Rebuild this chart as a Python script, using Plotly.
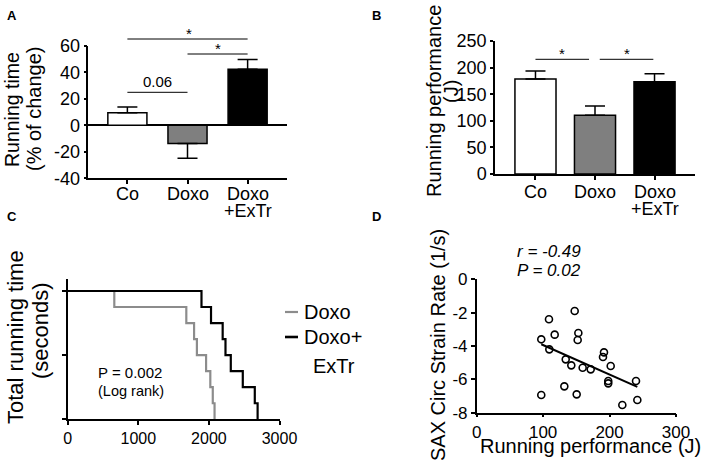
import plotly.graph_objects as go
import numpy as np

W, H = 708, 469
FONT = "Liberation Sans, Arial, Helvetica, sans-serif"


def px(x):
    return x / W


def py(y):
    return 1 - y / H


# ---------------- data ----------------
groups = ["Co", "Doxo", "Doxo"]
group_second_line = ["", "", "+ExTr"]
bar_colors = ["white", "#7f7f7f", "black"]

# Panel A: running time (% of change)
a_vals = [9.5, -13.8, 42.2]
a_err_plus = [4.3, 0.0, 7.3]
a_err_minus = [0.0, 11.1, 0.0]
a_yticks = [-40, -20, 0, 20, 40, 60]

# Panel B: running performance (J)
b_vals = [178.6, 110.3, 173.6]
b_err = [15.0, 17.5, 15.0]
b_yticks = [0, 50, 100, 150, 200, 250]

# Panel C: Kaplan-Meier style, event times (s)
km_names = ["Doxo", "Doxo+", "ExTr"]
km_doxo_times = [660, 1680, 1790, 1830, 1960, 2020, 2055, 2080]
km_extr_times = [1895, 2030, 2195, 2235, 2310, 2480, 2650, 2690]
c_xticks = [0, 1000, 2000, 3000]
c_yticks = [0, 50, 100]

# Panel D: scatter
d_x = [97.2, 108.8, 109.3, 117.4, 147.5, 153.0, 152.0, 134.0, 142.4, 159.5, 171.6,
       131.9, 97.2, 150.5, 191.6, 190.1, 201.7, 198.0, 198.0, 239.8, 241.8, 219.2]
d_y = [-3.6, -2.4, -4.2, -3.32, -1.9, -3.22, -3.64, -4.8, -5.16, -5.3, -5.4,
       -6.42, -6.94, -6.9, -4.38, -4.66, -5.2, -6.1, -6.24, -6.1, -7.24, -7.54]
d_xticks = [0, 100, 200, 300]
d_yticks = [0, -2, -4, -6, -8]

# ---------------- figure ----------------
fig = go.Figure()

fig.add_trace(go.Bar(
    x=[0, 1, 2], y=a_vals, width=0.65,
    marker=dict(color=bar_colors, line=dict(color="black", width=1.5)),
    error_y=dict(type="data", symmetric=False, array=a_err_plus, arrayminus=a_err_minus,
                 color="black", thickness=1.5, width=10),
    xaxis="x", yaxis="y", showlegend=False))

fig.add_trace(go.Bar(
    x=[0, 1, 2], y=b_vals, width=0.69,
    marker=dict(color=bar_colors, line=dict(color="black", width=1.5)),
    error_y=dict(type="data", symmetric=False, array=b_err, arrayminus=[0, 0, 0],
                 color="black", thickness=1.5, width=10),
    xaxis="x2", yaxis="y2", showlegend=False))


def km_steps(times):
    n = len(times)
    xs = [0] + list(times)
    ys = [100.0] + [100.0 * (n - i - 1) / n for i in range(n)]
    return xs, ys


for times, col, wdt in [(km_doxo_times, "#8c8c8c", 2.2), (km_extr_times, "black", 2.2)]:
    xs, ys = km_steps(times)
    fig.add_trace(go.Scatter(x=xs, y=ys, mode="lines", line=dict(color=col, width=wdt, shape="hv"),
                             xaxis="x3", yaxis="y3", showlegend=False))

fig.add_trace(go.Scatter(
    x=d_x, y=d_y, mode="markers",
    marker=dict(symbol="circle-open", size=7, color="black", line=dict(width=1.6, color="black")),
    xaxis="x4", yaxis="y4", showlegend=False, cliponaxis=False))

slope, intercept = np.polyfit(d_x, d_y, 1)
fx = np.array([min(d_x), max(d_x)])
fig.add_trace(go.Scatter(x=fx, y=slope * fx + intercept, mode="lines",
                         line=dict(color="black", width=2), xaxis="x4", yaxis="y4", showlegend=False))

axis_common = dict(showline=True, linecolor="black", linewidth=1.5, ticks="outside",
                   tickcolor="black", tickwidth=1.5, ticklen=4, showgrid=False, zeroline=False,
                   automargin=False,
                   tickfont=dict(size=18, color="black", family=FONT), fixedrange=True)

fig.update_layout(
    template="none",
    width=W, height=H, margin=dict(l=0, r=0, t=0, b=0, pad=0, autoexpand=False),
    paper_bgcolor="white", plot_bgcolor="white",
    font=dict(family=FONT, color="black"),
    xaxis=dict(axis_common, domain=[px(88.3), px(286.7)], range=[-0.65, 2.65], anchor="y",
               tickmode="array", tickvals=[0, 1, 2], showticklabels=False),
    yaxis=dict(axis_common, domain=[py(178.3), py(45.7)], range=[-40, 60], anchor="x",
               tickmode="array", tickvals=a_yticks, ticktext=[str(v) for v in a_yticks], ticklen=3,
               zeroline=True, zerolinecolor="black", zerolinewidth=1.5),
    xaxis2=dict(axis_common, domain=[px(495), px(695)], range=[-0.68, 2.68], anchor="y2",
                tickmode="array", tickvals=[0, 1, 2], showticklabels=False),
    yaxis2=dict(axis_common, domain=[py(174), py(41)], range=[0, 250], anchor="x2",
                tickmode="array", tickvals=b_yticks, ticktext=[str(v) for v in b_yticks], ticklen=3),
    xaxis3=dict(axis_common, domain=[px(67.7), px(279.5)], range=[0, 3000], anchor="y3",
                tickmode="array", tickvals=c_xticks, ticktext=[str(v) for v in c_xticks],
                tickfont=dict(size=16, color="black", family=FONT)),
    yaxis3=dict(axis_common, domain=[py(419.3), py(279.3)], range=[0, 109.1], anchor="x3",
                tickmode="array", tickvals=c_yticks, showticklabels=False),
    xaxis4=dict(axis_common, domain=[px(476.7), px(676)], range=[0, 300], anchor="y4",
                tickmode="array", tickvals=d_xticks, ticktext=[str(v) for v in d_xticks],
                ticklen=3, tickfont=dict(size=17, color="black", family=FONT)),
    yaxis4=dict(axis_common, domain=[py(412.7), py(279.3)], range=[-8, 0], anchor="x4",
                tickmode="array", tickvals=d_yticks, ticktext=[str(v) for v in d_yticks],
                tickfont=dict(size=17, color="black", family=FONT)),
)

ann = []


def text(x, y, s, size, angle=0, xanchor="center", yanchor="middle", xref="paper", bold=False, italic=False):
    if bold:
        s = "<b>" + s + "</b>"
    if italic:
        s = "<i>" + s + "</i>"
    ann.append(dict(x=x if xref != "paper" else px(x), y=py(y), xref=xref, yref="paper", text=s,
                    showarrow=False, textangle=angle, xanchor=xanchor, yanchor=yanchor,
                    font=dict(size=size, color="black", family=FONT)))


# panel labels
text(12, 16, "A", 13, bold=True)
text(376, 16, "B", 13, bold=True)
text(12, 216, "C", 13, bold=True)
text(376, 216, "D", 13, bold=True)

# category labels (two-line for the third group)
for i, (s1, s2) in enumerate(zip(groups, group_second_line)):
    text(i, 194, s1, 18, xref="x")
    text(i, 192, s1, 18, xref="x2")
    if s2:
        text(i, 211, s2, 18, xref="x")
        text(i, 209, s2, 18, xref="x2")

# y titles
text(12, 110, "Running time", 19.5, angle=-90)
text(34, 109, "(% of change)", 20, angle=-90)
text(434, 101, "Running performance", 20, angle=-90)
text(451, 92, "(J)", 20, angle=-90)
text(15, 337, "Total running time", 22, angle=-90)
text(40, 331, "(seconds)", 22, angle=-90)
text(438, 345, "SAX Circ Strain Rate (1/s)", 20, angle=-90)
text(590, 446, "Running performance (J)", 20)

# panel D stats
text(549, 251, "r = -0.49", 17, italic=True)
text(549, 270, "P = 0.02", 17, italic=True)

# panel C stats and legend
text(130, 372, "P = 0.002", 15)
text(131, 391, "(Log rank)", 14.5)
text(302, 312, km_names[0], 20, xanchor="left")
text(302, 337, km_names[1], 20, xanchor="left")
text(311, 366, km_names[2], 20, xanchor="left")

shapes = []


def hline(x0, x1, y, xref, width=1.0, color="black"):
    shapes.append(dict(type="line", xref=xref, yref="paper", x0=x0, x1=x1, y0=py(y), y1=py(y),
                       line=dict(color=color, width=width)))


hline(px(285), px(298), 312, "paper", width=2.2, color="#8c8c8c")
hline(px(285), px(298), 337, "paper", width=2.6)

# significance in A
hline(0, 2, 39, "x")
hline(1, 2, 54, "x")
hline(0, 1, 92.3, "x")
text(1.02, 44, "*", 15, xref="x", yanchor="bottom")
text(1.5, 59, "*", 15, xref="x", yanchor="bottom")
text(0.5, 82, "0.06", 15, xref="x")
# significance in B
hline(0, 0.9, 59.3, "x2")
hline(1.08, 1.98, 59.3, "x2")
text(0.45, 64, "*", 15, xref="x2", yanchor="bottom")
text(1.54, 64, "*", 15, xref="x2", yanchor="bottom")

fig.update_layout(annotations=ann, shapes=shapes)

fig.write_html("out.html", config={"displayModeBar": False},
               post_script="document.body.style.margin='0';document.body.style.padding='0';"
                           "document.body.style.overflow='hidden';")
